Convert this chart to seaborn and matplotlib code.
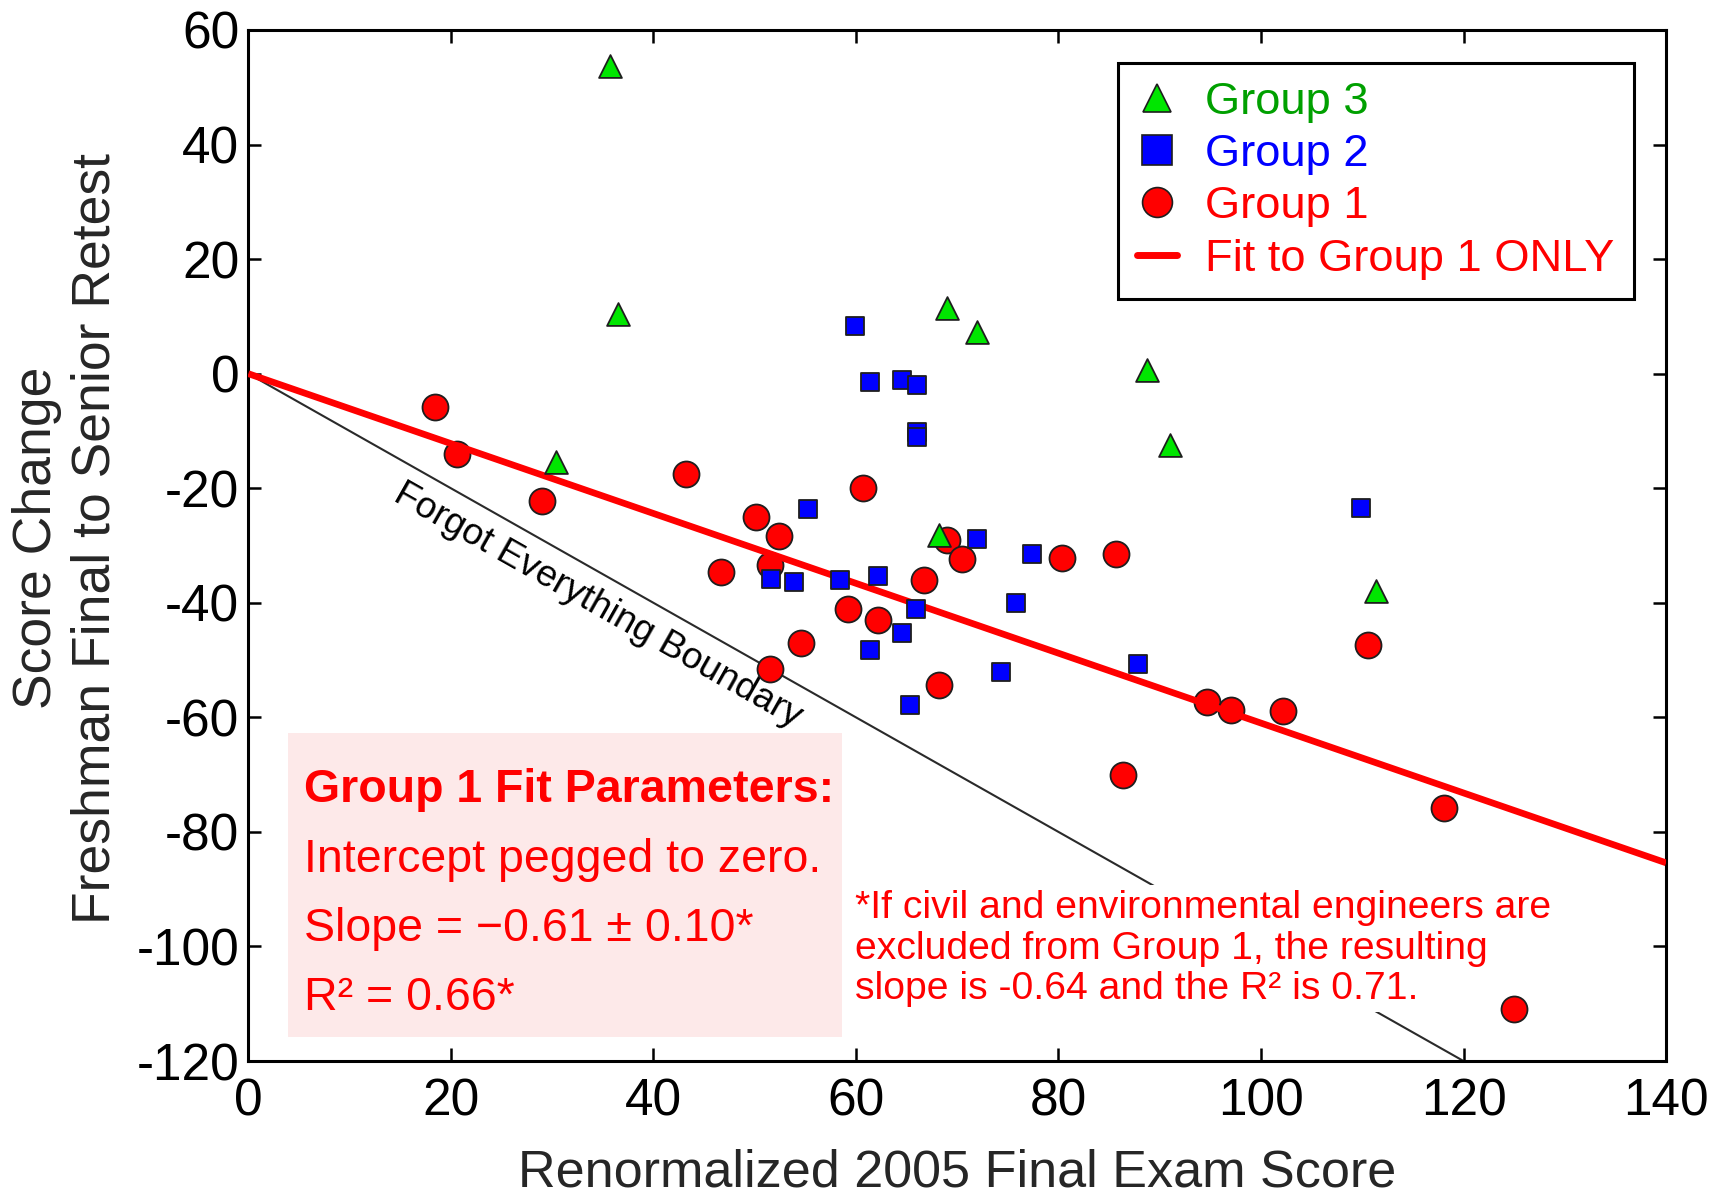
import numpy as np
import pandas as pd
import matplotlib
matplotlib.use("Agg")
import matplotlib.pyplot as plt
from matplotlib.lines import Line2D
from matplotlib.patches import Rectangle
import seaborn as sns

# ---- data -------------------------------------------------------------
group1_score = [18.4, 20.6, 29.0, 43.2, 46.7, 50.1, 52.4, 51.5, 51.5, 54.6,
                60.7, 59.2, 62.2, 66.7, 68.2, 69.0, 70.5, 80.3, 85.7, 86.4,
                94.7, 97.0, 102.2, 110.6, 118.1, 125.0]
group1_change = [-5.8, -14.1, -22.2, -17.6, -34.6, -25.0, -28.3, -33.4, -51.6, -47.1,
                 -19.9, -41.0, -43.0, -36.1, -54.3, -29.0, -32.4, -32.1, -31.5, -70.0,
                 -57.3, -58.7, -58.9, -47.3, -75.8, -111.0]

group2_score = [59.9, 61.4, 64.5, 66.0, 66.0, 66.0, 55.3, 51.6, 53.9, 58.4, 62.2,
                65.9, 64.5, 61.4, 65.3, 72.0, 77.4, 75.8, 74.3, 87.9, 109.9]
group2_change = [8.4, -1.4, -1.1, -2.0, -10.1, -11.0, -23.6, -35.8, -36.4, -36.0, -35.4,
                 -41.0, -45.3, -48.2, -57.8, -28.9, -31.5, -40.1, -52.0, -50.6, -23.4]

group3_score = [35.7, 36.5, 30.4, 69.0, 72.0, 88.7, 91.0, 68.2, 111.4]
group3_change = [53.7, 10.4, -15.4, 11.4, 7.3, 0.6, -12.4, -28.2, -37.9]

fit_slope = -0.61          # zero-intercept fit to Group 1
fit_slope_err = 0.10
fit_r2 = 0.66
alt_slope = -0.64          # Group 1 without civil/environmental engineers
alt_r2 = 0.71
boundary_score = [0, 120]  # "forgot everything": change = -score

x_ticks = list(range(0, 141, 20))
y_ticks = list(range(-120, 61, 20))

# ---- style ------------------------------------------------------------
sns.set_style("ticks")
plt.rcParams["font.family"] = ["Liberation Sans", "DejaVu Sans"]
plt.rcParams["axes.unicode_minus"] = False

RED = "#ff0000"
BLUE = "#0000ff"
GREEN = "#00e600"
GREEN_TXT = "#00a000"
EDGE = "#1e1e1e"

fig = plt.figure(figsize=(17.21, 11.95), dpi=100)
ax = fig.add_axes([0.1443, 0.1121, 0.8238, 0.8628])
ax.set_xlim(x_ticks[0], x_ticks[-1])
ax.set_ylim(y_ticks[0], y_ticks[-1])

df1 = pd.DataFrame({"score": group1_score, "change": group1_change})
df2 = pd.DataFrame({"score": group2_score, "change": group2_change})
df3 = pd.DataFrame({"score": group3_score, "change": group3_change})

# forgot-everything boundary (change = -score)
bx = np.array(boundary_score, dtype=float)
ax.plot(bx, -bx, color="#2a2a2a", lw=1.5, zorder=2.2)

sns.scatterplot(data=df1, x="score", y="change", marker="o", s=350, color=RED,
                edgecolor=EDGE, linewidth=1.3, zorder=2.6, ax=ax, legend=False)

# zero-intercept fit line to Group 1
fx = np.array([x_ticks[0], x_ticks[-1]], dtype=float)
ax.plot(fx, fit_slope * fx, color=RED, lw=4.8, zorder=2.7, solid_capstyle="butt")

sns.scatterplot(data=df2, x="score", y="change", marker="s", s=175, color=BLUE,
                edgecolor=EDGE, linewidth=1.3, zorder=3.0, ax=ax, legend=False)
sns.scatterplot(data=df3, x="score", y="change", marker="^", s=270, color=GREEN,
                edgecolor=EDGE, linewidth=1.3, zorder=3.1, ax=ax, legend=False)

# ---- axes cosmetics -----------------------------------------------------
ax.set_xticks(x_ticks)
ax.set_yticks(y_ticks)
for s in ax.spines.values():
    s.set_linewidth(2.2)
    s.set_color("black")
    s.set_visible(True)
ax.tick_params(direction="in", length=9.5, width=1.8, top=True, right=True,
               labelsize=37, colors="black")
ax.tick_params(axis="x", pad=12)
ax.tick_params(axis="y", pad=6.5)

ax.set_xlabel("Renormalized 2005 Final Exam Score", fontsize=37.5)
ax.set_ylabel("Score Change\nFreshman Final to Senior Retest", fontsize=38.5,
              linespacing=1.2)
ax.xaxis.set_label_coords(0.5, -0.0845)
ax.yaxis.set_label_coords(-0.0905, 0.507)

# label along the boundary line
p0 = ax.transData.transform((0, 0))
p1 = ax.transData.transform((100, -100))
angle = np.degrees(np.arctan2(p1[1] - p0[1], p1[0] - p0[0]))
ax.text(34.5, -40.4, "Forgot Everything Boundary", fontsize=26.7, color="black",
        rotation=angle, rotation_mode="anchor", ha="center", va="center", zorder=2.3)

# fit-parameter panel
ax.add_patch(Rectangle((0.0277, 0.0230), 0.3913, 0.2948, transform=ax.transAxes,
                       facecolor="#fde9e9", edgecolor="none", zorder=1.0))
panel_lines = [
    ("Group 1 Fit Parameters:", "bold", 0.2516),
    ("Intercept pegged to zero.", "normal", 0.1837),
    (f"Slope = \u2212{abs(fit_slope):.2f} \u00b1 {fit_slope_err:.2f}*", "normal", 0.1168),
    (f"R\u00b2 = {fit_r2:.2f}*", "normal", 0.0499),
]
for txt, weight, yy in panel_lines:
    ax.text(0.0393, yy, txt, transform=ax.transAxes, fontsize=33.5, color=RED,
            fontweight=weight, ha="left", va="baseline", zorder=1.5)

# footnote
ax.text(0.4282, 0.1655,
        "*If civil and environmental engineers are\n"
        "excluded from Group 1, the resulting\n"
        f"slope is {alt_slope:.2f} and the R\u00b2 is {alt_r2:.2f}.",
        transform=ax.transAxes, fontsize=28.2, color=RED, ha="left", va="top",
        linespacing=1.15, zorder=2.5,
        bbox=dict(facecolor="white", edgecolor="none", pad=4))

# ---- legend -------------------------------------------------------------
handles = [
    Line2D([], [], ls="none", marker="^", markersize=20, markerfacecolor=GREEN,
           markeredgecolor=EDGE, markeredgewidth=1.2),
    Line2D([], [], ls="none", marker="s", markersize=21.5, markerfacecolor=BLUE,
           markeredgecolor=EDGE, markeredgewidth=1.2),
    Line2D([], [], ls="none", marker="o", markersize=21.5, markerfacecolor=RED,
           markeredgecolor=EDGE, markeredgewidth=1.2),
    Line2D([], [], color=RED, lw=5, solid_capstyle="round"),
]
labels = ["Group 3", "Group 2", "Group 1", "Fit to Group 1 ONLY"]
leg = ax.legend(handles, labels, loc="upper right", fontsize=32.6, frameon=True,
                fancybox=False, edgecolor="black", framealpha=1.0,
                borderaxespad=0.72, handlelength=0.87, handletextpad=0.63,
                borderpad=0.42, labelspacing=0.25)
leg.get_frame().set_linewidth(2.2)
leg.set_zorder(5)
for t, c in zip(leg.get_texts(), [GREEN_TXT, BLUE, RED, RED]):
    t.set_color(c)

fig.savefig("out.png", dpi=100)
